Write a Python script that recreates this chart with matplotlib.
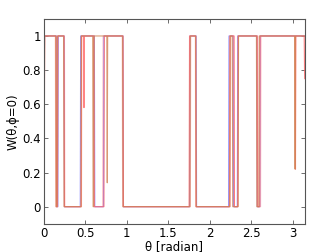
import numpy as np
import matplotlib
matplotlib.use('Agg')
import matplotlib.pyplot as plt

###Data: step-like curves W(theta, phi=0), breakpoints

th_blue = [0.0, 0.01, 0.155, 0.16, 0.17, 0.175, 0.245, 0.25, 0.44, 0.445, 0.61, 0.615, 0.72, 0.725,
           0.955, 0.96, 1.755, 1.76, 1.835, 1.84, 2.225, 2.23, 2.28, 2.285, 2.33, 2.335, 2.565, 2.57,
           2.60, 2.605, 3.1416]
w_blue = [0, 1, 1, 0, 0, 1, 1, 0, 0, 1, 1, 0, 0, 1,
          1, 0, 0, 1, 1, 0, 0, 1, 1, 0, 0, 1, 1, 0,
          0, 1, 1]

th_red = [0.0, 0.01, 0.15, 0.155, 0.165, 0.17, 0.245, 0.25, 0.45, 0.455, 0.48, 0.485, 0.49, 0.605, 0.61,
          0.725, 0.73, 0.955, 0.96, 1.75, 1.755, 1.83, 1.835, 2.235, 2.24, 2.29, 2.295, 2.335, 2.34,
          2.57, 2.575, 2.60, 2.605, 3.025, 3.03, 3.035, 3.135, 3.14]
w_red = [0, 1, 1, 0, 0, 1, 1, 0, 0, 1, 1, 0.58, 1, 1, 0,
         0, 1, 1, 0, 0, 1, 1, 0, 0, 1, 1, 0, 0, 1,
         1, 0, 0, 1, 1, 0.22, 1, 1, 0.75]

th_brown = [0.0, 0.012, 0.145, 0.15, 0.16, 0.165, 0.24, 0.245, 0.45, 0.452, 0.59, 0.595, 0.60, 0.605,
            0.73, 0.735, 0.76, 0.765, 0.77, 0.95, 0.955, 1.76, 1.765, 1.83, 1.835, 2.24, 2.245, 2.27, 2.275,
            2.30, 2.34, 2.345, 2.56, 2.565, 2.59, 2.595, 3.02, 3.025, 3.03, 3.1416]
w_brown = [0, 1, 1, 0, 0, 1, 1, 0, 0, 1, 1, 0, 0, 1,
           1, 1, 1, 0.14, 1, 1, 0, 0, 1, 1, 0, 0, 1, 1, 0,
           0, 0, 1, 1, 0, 0, 1, 1, 0.22, 1, 1]

th_pink = [0.0, 0.015, 0.14, 0.145, 0.17, 0.175, 0.25, 0.255, 0.455, 0.46, 0.60, 0.605, 0.71, 0.715,
           0.945, 0.95, 1.765, 1.77, 1.825, 1.83, 2.245, 2.25, 2.29, 2.295, 2.335, 2.34, 2.575, 2.58,
           2.61, 2.615, 3.1416]
w_pink = [0, 1, 1, 0, 0, 1, 1, 0, 0, 1, 1, 0, 0, 1,
          1, 0, 0, 1, 1, 0, 0, 1, 1, 0, 0, 1, 1, 0,
          0, 1, 1]

series = [(th_pink, w_pink, '#ffb0b0'),
          (th_blue, w_blue, '#7a7aff'),
          (th_red, w_red, '#ff6666'),
          (th_brown, w_brown, '#d08050')]

###Plot

fig = plt.figure(figsize=(3.36, 2.52), dpi=100)
ax = fig.add_axes([0.130, 0.112, 0.777, 0.813])

for th, w, c in series:
    ax.plot(th, w, color=c, lw=0.8, alpha=0.8)

ax.set_xlim(0, np.pi)
ax.set_ylim(-0.1, 1.1)
ax.set_xticks([0, 0.5, 1, 1.5, 2, 2.5, 3])
ax.set_xticklabels(['0', '0.5', '1', '1.5', '2', '2.5', '3'])
ax.set_yticks([0, 0.2, 0.4, 0.6, 0.8, 1])
ax.set_yticklabels(['0', '0.2', '0.4', '0.6', '0.8', '1'])
ax.tick_params(direction='in', top=True, right=True, length=3, width=0.6,
               labelsize=8.5, pad=2, color='#555555')
for s in ax.spines.values():
    s.set_color('#555555')
    s.set_linewidth(0.8)

ax.set_xlabel('θ [radian]', fontsize=8.5, labelpad=0.5)
ax.set_ylabel('W(θ,ϕ=0)', fontsize=8.5, labelpad=2)

plt.savefig('out.png', dpi=100)
